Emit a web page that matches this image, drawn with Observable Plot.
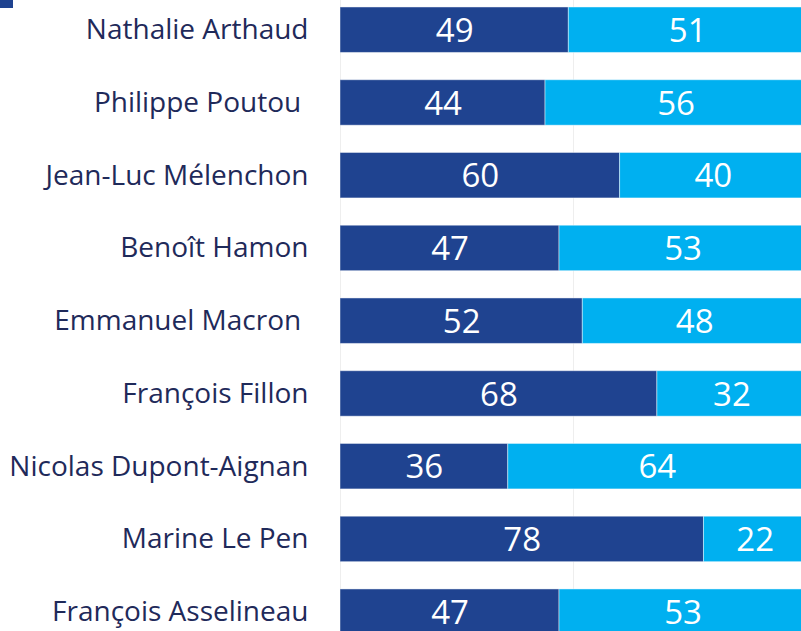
<!DOCTYPE html>
<html>
<head>
<meta charset="utf-8">
<script src="https://cdn.jsdelivr.net/npm/d3@7"></script>
<script src="https://cdn.jsdelivr.net/npm/@observablehq/plot@0.6"></script>
<style>
  html, body { margin: 0; padding: 0; background: white; overflow: hidden; }
  #wrap { position: relative; width: 801px; height: 631px; overflow: hidden; }
  #swatch { position: absolute; left: 0; top: 0; width: 13px; height: 8px; background: #1f4390; }
</style>
</head>
<body>
<div id="wrap"><div id="swatch"></div><div id="chart"></div></div>
<script>
const candidates = [
  "Nathalie Arthaud",
  "Philippe Poutou ",
  "Jean-Luc Mélenchon",
  "Benoît Hamon",
  "Emmanuel Macron ",
  "François Fillon",
  "Nicolas Dupont-Aignan",
  "Marine Le Pen",
  "François Asselineau"
];
const seriesA = [49, 44, 60, 47, 52, 68, 36, 78, 47];
const seriesB = [51, 56, 40, 53, 48, 32, 64, 22, 53];
const seriesNames = ["A", "B"];
const colors = ["#1f4390", "#00b0f0"];

const data = [];
candidates.forEach((c, i) => {
  data.push({candidate: c, series: seriesNames[0], value: seriesA[i]});
  data.push({candidate: c, series: seriesNames[1], value: seriesB[i]});
});

const chart = Plot.plot({
  width: 801,
  height: 631,
  marginLeft: 340,
  marginRight: 0,
  marginTop: 0,
  marginBottom: 0,
  style: {fontFamily: "'Open Sans', sans-serif", background: "white", overflow: "visible"},
  x: {domain: [0, 100], range: [340, 806], axis: null},
  y: {domain: candidates, range: [-20.3, 661.7], padding: 0.375, round: false, label: null},
  color: {domain: seriesNames, range: colors},
  marks: [
    Plot.ruleX([0, 50, 100], {stroke: "#eeeeee", strokeWidth: 1}),
    Plot.barX(data, Plot.stackX({x: "value", y: "candidate", fill: "series", order: seriesNames, stroke: "white", strokeOpacity: 0.45, strokeWidth: 1})),
    Plot.text(data, Plot.stackX({x: "value", y: "candidate", z: "series", order: seriesNames, text: d => String(d.value), fill: "white", fontSize: 33, dy: 1})),
    Plot.axisY({tickSize: 0, tickPadding: 32, fontSize: 28, fill: "#1f2a5a", label: null})
  ]
});
document.getElementById("chart").appendChild(chart);
</script>
</body>
</html>
